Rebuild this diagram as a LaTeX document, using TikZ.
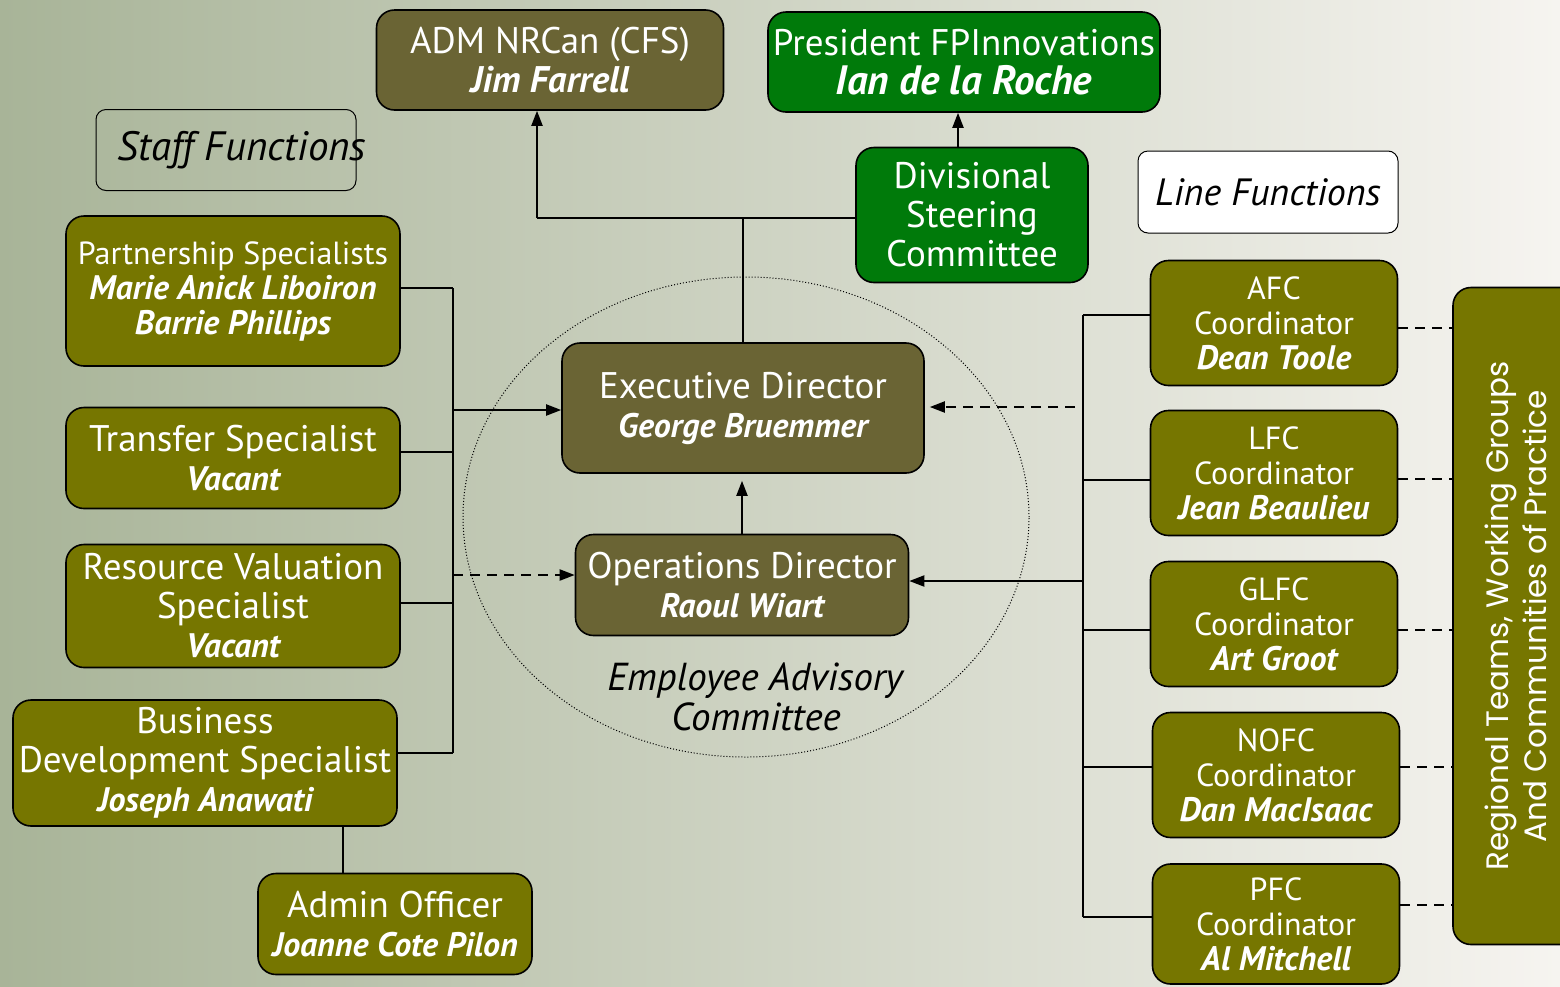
\documentclass[tikz,border=0pt]{standalone}
\usepackage{fontspec}
\setmainfont{PT Sans}
\newfontfamily\regfont{Poppins}
\usepackage{tikz}
\usetikzlibrary{arrows,arrows.meta,positioning}
\definecolor{myolive}{RGB}{118,118,0}
\definecolor{mydarkolive}{RGB}{106,100,52}
\definecolor{mygreen}{RGB}{0,122,10}
\definecolor{bgleft}{RGB}{168,180,152}
\definecolor{bgmid}{RGB}{206,212,195}
\definecolor{bgright}{RGB}{246,244,240}
\tikzstyle{box}=[draw,line width=1.6pt,rounded corners=18pt,text=white,align=center,inner sep=0pt]
\tikzstyle{olivebox}=[box,fill=myolive]
\tikzstyle{darkbox}=[box,fill=mydarkolive]
\tikzstyle{greenbox}=[box,fill=mygreen]
\tikzstyle{tagbox}=[draw,line width=1pt,rounded corners=10pt,align=center]
\tikzstyle{link}=[line width=2pt]
\tikzstyle{arr}=[line width=2pt,-{Triangle[length=15pt,width=11pt]}]
\tikzstyle{dashlink}=[line width=2pt,dash pattern=on 10pt off 7pt]
\newcommand{\pname}[2][34]{{\fontsize{#1}{\the\baselineskip}\selectfont\bfseries\itshape #2}}
\newcommand{\bigtxt}{\fontsize{37}{39}\selectfont}
\newcommand{\midtxt}{\fontsize{32}{35}\selectfont}

\begin{document}
\begin{tikzpicture}[x=1pt,y=-1pt]
\useasboundingbox (0,0) rectangle (1560,986);
\clip (0,0) rectangle (1560,986);
\shade[left color=bgleft,middle color=bgmid,right color=bgright] (0,0) rectangle (1560,986);
% employee advisory committee
\draw[dotted,line width=1pt] (746,517) ellipse [x radius=283pt,y radius=240pt];
\draw (756,697) node [align=center,font=\fontsize{39}{40}\selectfont] (eac) {\textit{Employee Advisory}\\\textit{Committee}};
% top
\draw (550,60) node [darkbox,minimum width=347,minimum height=100,font=\bigtxt] (adm) {ADM NRCan (CFS)\\\pname[37]{Jim Farrell}};
\draw (964,62) node [greenbox,minimum width=392,minimum height=100,font=\bigtxt] (pres) {President FPInnovations\\\pname[41]{Ian de la Roche}};
\draw (972,215) node [greenbox,minimum width=232,minimum height=135,font=\bigtxt] (dsc) {Divisional\\Steering\\Committee};
\draw (226,150) node [tagbox,minimum width=260,minimum height=81,label={[font=\fontsize{41}{44}\selectfont,xshift=16pt]center:\textit{Staff Functions}}] (staff) {};
\draw (1268,192) node [tagbox,fill=white,minimum width=260,minimum height=82,font=\fontsize{38}{40}\selectfont] (line) {\textit{Line Functions}};
% directors
\draw (743,408) node [darkbox,minimum width=362,minimum height=130,font=\bigtxt] (exec) {Executive Director\\\pname{George Bruemmer}};
\draw (742,585) node [darkbox,minimum width=333,minimum height=101,font=\bigtxt] (ops) {Operations Director\\\pname{Raoul Wiart}};
% staff functions
\draw (233,291) node [olivebox,minimum width=334,minimum height=150,font=\midtxt] (partner) {Partnership Specialists\\\pname{Marie Anick Liboiron}\\\pname{Barrie Phillips}};
\draw (233,458) node [olivebox,minimum width=334,minimum height=101,font=\bigtxt] (transfer) {Transfer Specialist\\\pname{Vacant}};
\draw (233,606) node [olivebox,minimum width=334,minimum height=123,font=\bigtxt] (resource) {Resource Valuation\\Specialist\\\pname{Vacant}};
\draw (205,763) node [olivebox,minimum width=384,minimum height=126,font=\bigtxt] (busdev) {Business\\Development Specialist\\\pname{Joseph Anawati}};
\draw (395,924) node [olivebox,minimum width=274,minimum height=101,font=\bigtxt] (admin) {Admin Officer\\\pname{Joanne Cote Pilon}};
% line functions
\draw (1274,323) node [olivebox,minimum width=247,minimum height=125,font=\midtxt] (afc) {AFC\\Coordinator\\\pname{Dean Toole}};
\draw (1274,473) node [olivebox,minimum width=247,minimum height=125,font=\midtxt] (lfc) {LFC\\Coordinator\\\pname{Jean Beaulieu}};
\draw (1274,624) node [olivebox,minimum width=247,minimum height=125,font=\midtxt] (glfc) {GLFC\\Coordinator\\\pname{Art Groot}};
\draw (1276,775) node [olivebox,minimum width=247,minimum height=125,font=\midtxt] (nofc) {NOFC\\Coordinator\\\pname{Dan MacIsaac}};
\draw (1276,924) node [olivebox,minimum width=247,minimum height=120,font=\midtxt] (pfc) {PFC\\Coordinator\\\pname{Al Mitchell}};
\draw (1516,616) node [olivebox,rotate=90,minimum width=657,minimum height=126,font=\regfont\fontsize{31}{38}\selectfont] (regional) {Regional Teams, Working Groups\\And Communities of Practice};
% top links
\coordinate (topbus) at (537,218);
\draw[link] (exec.north) -- (exec.north |- topbus);
\draw[link] (topbus) -- (topbus -| dsc.west);
\draw[arr] (topbus) -- (topbus |- adm.south);
\draw[arr] ([xshift=-14pt]dsc.north) -- ([xshift=-14pt]dsc.north |- pres.south);
\draw[arr,shorten >=7pt] (ops.north) -- (ops.north |- exec.south);
% staff bus
\coordinate (l1) at (453,288);
\coordinate (l2) at (453,452);
\coordinate (l3) at (453,603);
\coordinate (l4) at (453,753);
\coordinate (l5) at (453,410);
\coordinate (l6) at (453,575);
\draw[link] (l1) -- (l4);
\draw[link] (l1) -- (l1 -| partner.east);
\draw[link] (l2) -- (l2 -| transfer.east);
\draw[link] (l3) -- (l3 -| resource.east);
\draw[link] (l4) -- (l4 -| busdev.east);
\draw[arr] (l5) -- (l5 -| exec.west);
\draw[arr,dashlink] (l6) -- (l6 -| ops.west);
\draw[link] ([xshift=-52pt]admin.north) -- ([xshift=-52pt]admin.north |- busdev.south);
% line bus
\coordinate (r1) at (1083,315);
\coordinate (r2) at (1083,480);
\coordinate (r3) at (1083,630);
\coordinate (r4) at (1083,767);
\coordinate (r5) at (1083,917);
\coordinate (r6) at (1083,581);
\coordinate (r7) at (1075,407);
\draw[link] (r1) -- (r5);
\draw[link] (r1) -- (r1 -| afc.west);
\draw[link] (r2) -- (r2 -| lfc.west);
\draw[link] (r3) -- (r3 -| glfc.west);
\draw[link] (r4) -- (r4 -| nofc.west);
\draw[link] (r5) -- (r5 -| pfc.west);
\draw[arr] (r6) -- (r6 -| ops.east);
\draw[arr,dashlink,shorten >=5pt] (r7) -- (r7 -| exec.east);
% to regional teams
\coordinate (d1) at (1398,328);
\coordinate (d2) at (1398,479);
\coordinate (d3) at (1398,630);
\coordinate (d4) at (1400,767);
\coordinate (d5) at (1400,905);
\draw[dashlink] (d1) -- (d1 -| regional.north);
\draw[dashlink] (d2) -- (d2 -| regional.north);
\draw[dashlink] (d3) -- (d3 -| regional.north);
\draw[dashlink] (d4) -- (d4 -| regional.north);
\draw[dashlink] (d5) -- (d5 -| regional.north);
\end{tikzpicture}
\end{document}
